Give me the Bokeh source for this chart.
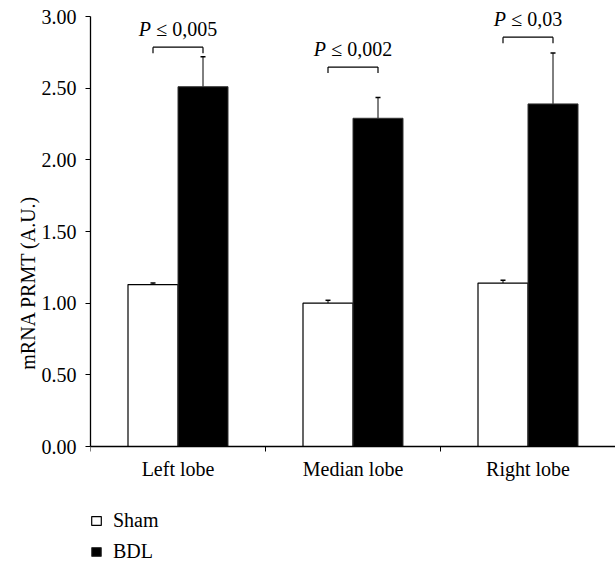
import numpy as np
from bokeh.plotting import figure
from bokeh.models import (ColumnDataSource, FixedTicker, Whisker, TeeHead, Legend,
                          LegendItem, Range1d, NumeralTickFormatter)
from bokeh.embed import file_html
from bokeh.resources import INLINE
from bokeh.core.properties import value

# ---- data ----
categories = ["Left lobe", "Median lobe", "Right lobe"]
sham_mean = [1.13, 1.00, 1.14]
sham_err = [0.01, 0.02, 0.02]
bdl_mean = [2.51, 2.29, 2.39]
bdl_err = [0.21, 0.145, 0.355]
p_italic = ["P", "P", "P"]
p_rest = ["\u2264 0,005", "\u2264 0,002", "\u2264 0,03"]
bracket_y = [2.786, 2.647, 2.856]
y_ticks = [0.0, 0.5, 1.0, 1.5, 2.0, 2.5, 3.0]

FONT = "Liberation Serif"
FS = "20px"
PX = 20.0

centers = np.arange(len(categories)) + 0.5
off = 1.0 / 7
bw = 2.0 / 7
sham_x = centers - off
bdl_x = centers + off

W, H = 615, 564
LEFT = 90
AXIS_TOP = 16         # canvas y of value 3.0
ZERO = 446            # canvas y of value 0
unit_px = (ZERO - AXIS_TOP) / 3.0
y_start = -(H - ZERO) / unit_px
y_end = 3.0 + AXIS_TOP / unit_px

p = figure(width=W, height=H, output_backend="svg", toolbar_location=None,
           x_range=Range1d(0, (W - LEFT) / 175.0), y_range=Range1d(y_start, y_end))
p.min_border_left = LEFT
p.min_border_right = 0
p.min_border_top = 0
p.min_border_bottom = 0
p.outline_line_color = None
p.grid.visible = False
p.background_fill_color = "white"

sham_src = ColumnDataSource(dict(x=sham_x, top=sham_mean,
                                 up=np.array(sham_mean) + np.array(sham_err)))
bdl_src = ColumnDataSource(dict(x=bdl_x, top=bdl_mean,
                                up=np.array(bdl_mean) + np.array(bdl_err)))

r_sham = p.vbar(x="x", top="top", width=bw, bottom=0, source=sham_src,
                fill_color="white", line_color="black", line_width=1.2)
r_bdl = p.vbar(x="x", top="top", width=bw, bottom=0, source=bdl_src,
               fill_color="black", line_color="#333333", line_width=1)

for src in (sham_src, bdl_src):
    w = Whisker(base="x", lower="top", upper="up", source=src, dimension="height",
                line_color="black", line_width=1,
                upper_head=TeeHead(size=5, line_color="black", line_width=1.5),
                lower_head=None)
    p.add_layout(w)

# significance brackets
leg = 0.042
bx0, bx1, by, by2 = [], [], [], []
for i in range(len(categories)):
    bx0 += [sham_x[i], sham_x[i], bdl_x[i]]
    bx1 += [bdl_x[i], sham_x[i], bdl_x[i]]
    by += [bracket_y[i], bracket_y[i], bracket_y[i]]
    by2 += [bracket_y[i], bracket_y[i] - leg, bracket_y[i] - leg]
p.segment(x0=bx0, y0=by, x1=bx1, y1=by2, line_color="black", line_width=1.2)

# p-value labels: italic P + rest, centred over bracket (approx. glyph widths)
cw = {" ": 0.25, "\u2264": 0.549, ",": 0.25, "P": 0.611}
GAP = 5.5
def tw(s):
    return sum(cw.get(c, 0.5) for c in s) * PX
split = [(-(tw(a) + GAP + tw(b)) / 2 + tw(a)) for a, b in zip(p_italic, p_rest)]
txt_y = np.array(bracket_y) + 0.125
lab_src = ColumnDataSource(dict(x=centers, y=txt_y, a=p_italic, b=p_rest,
                                offa=split, offb=[s + GAP for s in split]))
p.text(x="x", y="y", text="b", source=lab_src, text_font=value(FONT),
       text_font_size=FS, text_align="left", text_baseline="alphabetic", x_offset="offb")
p.text(x="x", y="y", text="a", source=lab_src, text_font=value(FONT),
       text_font_size=FS, text_font_style="italic", text_align="right",
       text_baseline="alphabetic", x_offset="offa")

# axes
xa = p.xaxis[0]
xa.fixed_location = 0
xa.ticker = FixedTicker(ticks=list(centers), minor_ticks=[0, 1, 2, 3])
xa.major_label_overrides = {float(c): n for c, n in zip(centers, categories)}
xa.major_tick_line_color = None
xa.major_tick_out = 0
xa.major_tick_in = 0
xa.minor_tick_line_color = "black"
xa.minor_tick_out = 5
xa.minor_tick_in = 0
xa.axis_line_color = "black"
xa.axis_line_width = 1.3
xa.major_label_text_font = FONT
xa.major_label_text_font_size = FS
xa.major_label_text_color = "black"
xa.major_label_standoff = 6

ya = p.yaxis[0]
ya.bounds = (0, 3)
ya.ticker = FixedTicker(ticks=y_ticks)
ya.formatter = NumeralTickFormatter(format="0.00")
ya.minor_tick_line_color = None
ya.major_tick_out = 5
ya.major_tick_in = 0
ya.major_tick_line_color = "black"
ya.axis_line_color = "black"
ya.axis_line_width = 1.3
ya.major_label_text_font = FONT
ya.major_label_text_font_size = FS
ya.major_label_text_color = "black"
ya.major_label_standoff = 9
ya.axis_label = "mRNA PRMT (A.U.)"
ya.axis_label_text_font = FONT
ya.axis_label_text_font_size = FS
ya.axis_label_text_font_style = "normal"
ya.axis_label_text_color = "black"
ya.axis_label_standoff = 0

legend = Legend(items=[LegendItem(label="Sham", renderers=[r_sham]),
                       LegendItem(label="BDL", renderers=[r_bdl])],
                location=(0, 1), orientation="vertical",
                label_text_font=FONT, label_text_font_size=FS,
                label_text_color="black",
                glyph_width=12, glyph_height=11, label_standoff=11,
                spacing=8, padding=0, margin=0, border_line_color=None,
                background_fill_alpha=0, label_height=20)
p.add_layout(legend, "center")

open("out.html", "w").write(file_html(p, INLINE))
